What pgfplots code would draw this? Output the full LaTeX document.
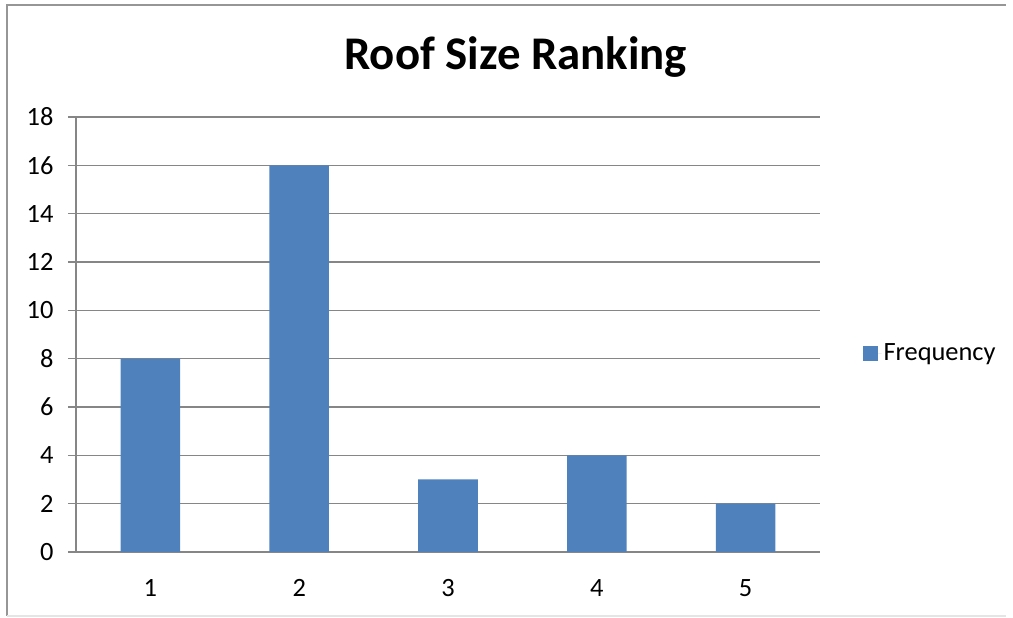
\documentclass[border=0pt]{standalone}
\usepackage{fontspec}
\setmainfont{Carlito}
\usepackage{pgfplots}
\pgfplotsset{compat=1.18}
\definecolor{barblue}{RGB}{79,129,189}
\definecolor{axisgray}{RGB}{134,134,134}
\definecolor{framegray}{RGB}{150,150,150}

\begin{document}
\begin{tikzpicture}
  % page frame
  \useasboundingbox (0,0) rectangle (1013bp,618bp);
  \draw[framegray, line width=1.5bp] (7bp,2bp) -- (7bp,613bp) -- (1006bp,613bp);
  \draw[gray!20, line width=1.5bp] (7bp,2bp) -- (1006bp,2bp);
  \begin{axis}[
    at={(76bp,66bp)}, anchor=south west,
    scale only axis,
    width=744bp, height=435bp,
    xmin=0.5, xmax=5.5,
    ymin=0, ymax=18,
    ytick={0,2,...,18},
    xtick={1,2,3,4,5},
    minor xtick={0.5,1.5,...,5.5},
    axis x line*=bottom,
    axis y line*=left,
    axis line style={axisgray, line width=1.2bp, -},
    tick align=outside,
    major tick length=8bp,
    minor tick length=8bp,
    xtick style={draw=none},
    minor tick style={axisgray, line width=1.2bp},
    ytick style={axisgray, line width=1.2bp},
    ymajorgrids,
    major grid style={axisgray, line width=1.2bp},
    tick label style={font=\fontsize{26.5}{30}\selectfont, black},
    /pgf/number format/assume math mode=true,
    yticklabel style={xshift=-11bp},
    xticklabel style={yshift=-16bp},
    title={Roof Size Ranking},
    title style={font=\fontsize{47}{54}\selectfont\bfseries,
      at={(axis description cs:0.591,1.096)}, anchor=base},
    legend style={draw=none, at={(axis description cs:1.053,0.457)},
      anchor=west, font=\fontsize{26.5}{30}\selectfont},
    legend image code/.code={\fill[barblue] (0bp,-7.5bp) rectangle (15bp,7.5bp);
      \path (0bp,0bp) -- (19bp,0bp);},
  ]
    \addplot[ybar, bar width=0.4, fill=barblue, draw=none]
      coordinates {(1,8) (2,16) (3,3) (4,4) (5,2)};
    \addlegendentry{Frequency}
  \end{axis}
\end{tikzpicture}
\end{document}
